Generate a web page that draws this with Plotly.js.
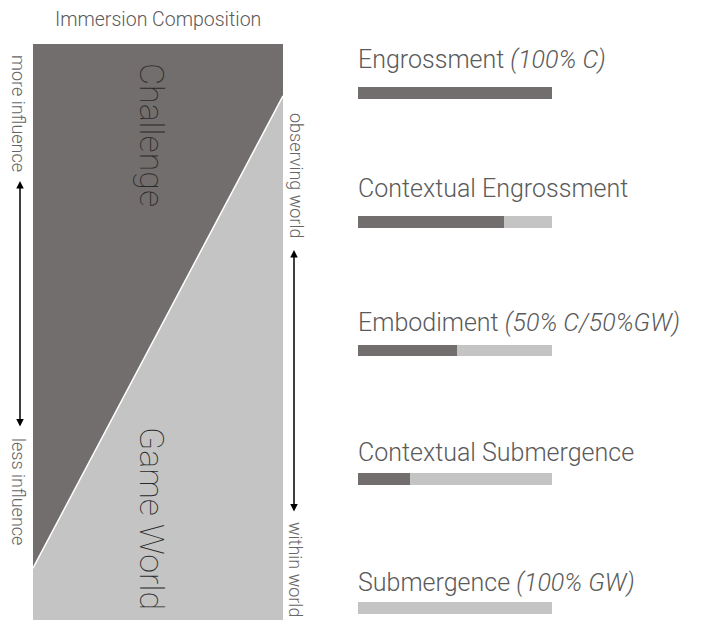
<!DOCTYPE html>
<html>
<head>
<meta charset="utf-8">
<script src="https://cdn.plot.ly/plotly-3.0.1.min.js"></script>
<style>html,body{margin:0;padding:0;background:#fff}#chart{width:704px;height:621px}</style>
</head>
<body>
<div id="chart"></div>
<script>
// Left panel: boundary between Challenge (top) and Game World (bottom), in % of height
var boundaryX = [0, 1];
var boundaryY = [9, 91];

// Right panel: immersion types and their composition (% Challenge / % Game World)
var categories = ["Engrossment", "Contextual Engrossment", "Embodiment", "Contextual Submergence", "Submergence"];
var labels = ["Engrossment <i>(100% C)</i>", "Contextual Engrossment", "Embodiment <i>(50% C/50%GW)</i>", "Contextual Submergence", "Submergence <i>(100% GW)</i>"];
var challenge = [100, 75, 51, 27, 0];
var gameWorld = [0, 25, 49, 73, 100];

var DARK = '#726e6d', LIGHT = '#c4c4c4';
var W = 704, H = 621;
function px(x){return x / W;}
function py(y){return 1 - y / H;}

var traces = [
  {x: [0, 1, boundaryX[1], boundaryX[0], 0], y: [0, 0, boundaryY[1], boundaryY[0], 0], fill: 'toself', fillcolor: LIGHT, mode: 'lines', line: {width: 0}, xaxis: 'x', yaxis: 'y', hoverinfo: 'skip'},
  {x: [0, 1, boundaryX[1], boundaryX[0], 0], y: [100, 100, boundaryY[1], boundaryY[0], 100], fill: 'toself', fillcolor: DARK, mode: 'lines', line: {width: 0}, xaxis: 'x', yaxis: 'y', hoverinfo: 'skip'},
  {x: boundaryX, y: boundaryY, mode: 'lines', line: {color: '#ffffff', width: 1.5}, xaxis: 'x', yaxis: 'y', hoverinfo: 'skip'},
  {type: 'bar', orientation: 'h', y: categories, x: challenge, marker: {color: DARK}, width: 0.093, xaxis: 'x2', yaxis: 'y2', hoverinfo: 'skip'},
  {type: 'bar', orientation: 'h', y: categories, x: gameWorld, marker: {color: LIGHT}, width: 0.093, xaxis: 'x2', yaxis: 'y2', hoverinfo: 'skip'}
];

var FONT = 'Roboto, "Open Sans", sans-serif';
var annotations = [];
var labelY = [59, 187, 321, 451, 581];
for (var i = 0; i < labels.length; i++) {
  annotations.push({xref: 'paper', yref: 'paper', x: px(356), y: py(labelY[i] + 1), xanchor: 'left', yanchor: 'middle', text: labels[i], showarrow: false, font: {family: FONT, size: 25, color: '#5a5a5a', weight: 300}});
}
annotations.push({xref: 'paper', yref: 'paper', x: px(158), y: py(19), xanchor: 'center', yanchor: 'middle', text: 'Immersion Composition', showarrow: false, font: {family: FONT, size: 19.5, color: '#5a5a5a', weight: 300}});
annotations.push({xref: 'paper', yref: 'paper', x: px(152), y: py(135), xanchor: 'center', yanchor: 'middle', text: 'Challenge', textangle: 90, showarrow: false, font: {family: FONT, size: 34, color: '#2a2a2a', weight: 100}});
annotations.push({xref: 'paper', yref: 'paper', x: px(152), y: py(518), xanchor: 'center', yanchor: 'middle', text: 'Game World', textangle: 90, showarrow: false, font: {family: FONT, size: 34, color: '#2a2a2a', weight: 100}});
var side = [
  ['more influence', 19, 113], ['less influence', 19, 491],
  ['observing world', 296, 175], ['within world', 296, 569]
];
side.forEach(function(s){
  annotations.push({xref: 'paper', yref: 'paper', x: px(s[1]), y: py(s[2]), xanchor: 'center', yanchor: 'middle', text: s[0], textangle: 90, showarrow: false, font: {family: FONT, size: 18, color: '#666', weight: 300}});
});
// double-headed arrows
[[20, 181, 428], [294, 250, 513]].forEach(function(a){
  annotations.push({xref: 'paper', yref: 'paper', x: px(a[0]), y: py(a[1]), ax: 0, ay: a[2] - a[1], axref: 'pixel', ayref: 'pixel', text: '', showarrow: true, arrowside: 'end+start', arrowhead: 2, arrowsize: 1, arrowwidth: 1.5, arrowcolor: '#000', standoff: 0, startstandoff: 0});
});

var layout = {
  width: W, height: H,
  margin: {l: 0, r: 0, t: 0, b: 0},
  paper_bgcolor: '#fff', plot_bgcolor: 'rgba(0,0,0,0)',
  showlegend: false,
  barmode: 'stack',
  xaxis: {domain: [px(33), px(283)], range: [0, 1], visible: false, fixedrange: true},
  yaxis: {domain: [py(620), py(44)], range: [0, 100], visible: false, fixedrange: true},
  xaxis2: {domain: [px(358), px(552)], range: [0, 100], visible: false, anchor: 'y2'},
  yaxis2: {domain: [0, 1], range: [4 + 13/128.75, -93/128.75], visible: false, anchor: 'x2', type: 'category', categoryorder: 'array', categoryarray: categories},
  annotations: annotations
};

Plotly.newPlot('chart', traces, layout, {staticPlot: true, displayModeBar: false});
</script>
</body>
</html>
